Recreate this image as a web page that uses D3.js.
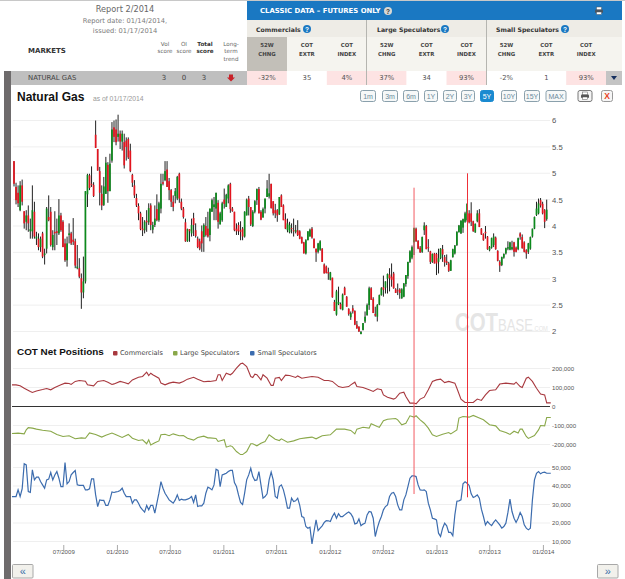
<!DOCTYPE html>
<html>
<head>
<meta charset="utf-8">
<title>Natural Gas COT</title>
<script src="https://cdn.jsdelivr.net/npm/d3@7/dist/d3.min.js"></script>
<style>
  html, body { margin: 0; padding: 0; background: #fff; }
  svg { display: block; }
  text { font-family: "Liberation Sans", Arial, sans-serif; }
  .soft { font-family: "DejaVu Sans", sans-serif; }
</style>
</head>
<body>
<svg id="page" width="625" height="579"></svg>
<script>
// ---- Report header ----
const reportLines = ["Report 2/2014", "Report date: 01/14/2014,", "issued: 01/17/2014"];
const scoreHeads = [["Vol", "score"], ["OI", "score"], ["Total", "score"], ["Long-", "term", "trend"]];
const marketName = "NATURAL GAS";
const scoreValues = ["3", "0", "3"];
const traderGroups = ["Commercials", "Large Speculators", "Small Speculators"];
const cotHeads = [["52W", "CHNG"], ["COT", "EXTR"], ["COT", "INDEX"]];
const cotCells = ["-32%", "35", "4%", "37%", "34", "93%", "-2%", "1", "93%"];
const cotCellHot = [true, false, true, true, false, true, false, false, true];
const rangeButtons = ["1m", "3m", "6m", "1Y", "2Y", "3Y", "5Y", "10Y", "15Y", "MAX"];
const activeRange = "5Y";

// ---- Axis ticks ----
const priceTicks = [2, 2.5, 3, 3.5, 4, 4.5, 5, 5.5, 6];
const netTicks = [-200, -100, 0, 100, 200];
const smallTicks = [10, 20, 30, 40, 50];
const dateTicks = ["2009-07-01", "2010-01-01", "2010-07-01", "2011-01-01", "2011-07-01", "2012-01-01", "2012-07-01", "2013-01-01", "2013-07-01", "2014-01-01"];

// ---- Weekly quotes, oldest first: open, high, low, close ----
const firstQuoteDate = "2009-01-13";
const weeklyQuotes = [
[5.23,5.23,4.75,4.80],[4.74,4.82,4.41,4.49],[4.63,4.77,4.36,4.43],[4.30,4.85,4.28,4.77],[4.77,4.88,4.39,4.46],
[4.28,4.28,3.95,4.05],[4.08,4.30,3.92,4.20],[4.20,4.39,3.89,4.05],[3.90,4.14,3.76,3.94],[3.90,4.77,3.76,4.30],
[4.27,4.46,3.76,3.80],[3.76,3.89,3.64,3.80],[3.76,3.86,3.54,3.60],[3.60,3.80,3.51,3.76],[3.86,3.89,3.39,3.42],
[3.45,3.57,3.27,3.48],[3.57,4.36,3.48,4.33],[4.17,4.58,4.09,4.11],[4.27,4.36,3.61,3.64],[3.60,3.92,3.54,3.83],
[3.89,4.28,3.54,3.86],[3.90,4.14,3.64,3.87],[3.86,4.51,3.83,4.20],[4.20,4.25,3.89,3.92],[4.08,4.11,3.60,3.60],
[3.67,3.76,3.32,3.35],[3.35,3.80,3.23,3.67],[3.83,4.05,3.67,3.86],[3.86,3.89,3.64,3.67],[3.74,4.15,3.64,3.70],
[3.71,3.76,3.20,3.25],[3.20,3.64,3.18,3.23],[3.20,3.39,3.01,3.04],[3.01,3.10,2.43,2.74],[2.74,3.42,2.63,2.95],
[2.95,4.66,2.91,4.66],[4.60,4.99,4.36,4.97],[4.96,4.99,4.68,4.72],[4.80,5.13,4.74,4.78],[4.78,4.83,4.55,4.57],
[5.73,6.00,5.48,5.48],[5.46,5.46,5.05,5.05],[5.04,5.12,4.39,4.63],[4.61,4.77,4.30,4.39],[4.40,4.93,4.38,4.75],
[4.61,5.31,4.61,5.20],[5.16,5.21,4.44,4.66],[4.66,5.37,4.66,5.18],[5.24,5.97,5.20,5.83],[5.87,6.00,5.59,5.69],
[5.83,6.02,5.53,5.59],[5.69,6.11,5.60,5.75],[5.75,5.81,5.46,5.60],[5.60,5.81,5.43,5.75],[5.59,5.75,5.09,5.15],
[5.62,5.68,5.24,5.50],[5.65,5.68,5.27,5.30],[5.43,5.56,5.02,5.04],[4.97,4.99,4.74,4.82],[4.77,4.87,4.53,4.58],
[4.53,4.61,4.36,4.39],[4.38,4.43,4.11,4.24],[4.24,4.27,3.92,3.94],[3.95,4.17,3.81,3.92],[3.92,4.11,3.86,4.08],
[4.10,4.30,3.89,4.07],[4.07,4.43,4.02,4.34],[4.39,4.43,3.92,4.02],[3.93,4.08,3.86,4.02],[4.02,4.39,3.98,4.14],
[4.32,4.60,4.09,4.11],[4.11,4.46,4.08,4.43],[4.33,4.99,4.24,4.80],[4.83,4.99,4.77,4.80],[4.87,5.23,4.85,5.04],
[5.07,5.23,4.74,4.74],[4.85,4.91,4.49,4.68],[4.68,4.70,4.36,4.46],[4.46,4.58,4.28,4.36],[4.57,4.72,4.43,4.66],
[4.52,4.95,4.49,4.93],[4.99,5.01,4.44,4.52],[4.46,4.52,4.30,4.33],[4.33,4.36,4.14,4.17],[4.07,4.14,3.70,3.71],
[3.71,3.95,3.70,3.94],[3.94,3.94,3.70,3.90],[3.86,4.14,3.80,4.02],[4.15,4.25,3.81,4.02],[3.92,4.05,3.78,3.81],
[3.76,3.80,3.58,3.60],[3.71,3.76,3.54,3.57],[3.90,4.01,3.51,3.67],[3.79,4.05,3.51,4.02],[4.00,4.17,3.80,3.83],
[3.95,4.27,3.78,3.80],[3.83,4.33,3.71,4.33],[4.27,4.52,4.27,4.49],[4.36,4.55,4.11,4.41],[4.33,4.63,4.11,4.63],
[4.44,4.49,3.95,4.08],[4.03,4.27,4.03,4.24],[4.11,4.46,4.08,4.43],[4.50,4.71,4.33,4.42],[4.36,4.61,4.36,4.59],
[4.52,4.79,4.43,4.77],[4.80,4.82,4.25,4.32],[4.33,4.36,4.27,4.28],[4.27,4.27,3.90,3.92],[3.95,4.05,3.83,3.90],
[4.02,4.07,3.83,3.90],[3.92,4.09,3.73,3.89],[3.95,3.98,3.73,3.80],[3.80,4.28,3.78,4.27],[4.20,4.52,4.20,4.50],
[4.52,4.57,4.20,4.36],[4.36,4.36,4.00,4.03],[4.00,4.30,3.98,4.27],[4.27,4.49,4.24,4.47],[4.49,4.71,4.40,4.70],
[4.70,4.74,4.24,4.24],[4.27,4.30,4.11,4.12],[4.16,4.35,4.16,4.32],[4.33,4.52,4.24,4.52],[4.55,4.87,4.55,4.71],
[4.56,4.99,4.52,4.62],[4.80,4.80,4.33,4.34],[4.47,4.47,4.20,4.24],[4.30,4.42,4.15,4.24],[4.30,4.32,4.08,4.20],
[4.22,4.55,4.21,4.55],[4.58,4.60,4.36,4.36],[4.39,4.41,4.11,4.11],[4.13,4.24,3.94,3.95],[3.92,4.14,3.88,4.05],
[3.88,4.08,3.86,4.02],[3.96,4.05,3.86,3.94],[3.92,4.14,3.80,3.90],[3.89,4.02,3.86,3.92],[3.92,4.11,3.81,3.83],
[3.90,3.92,3.75,3.76],[3.79,3.80,3.67,3.67],[3.69,3.70,3.48,3.48],[3.48,3.75,3.46,3.73],[3.73,3.90,3.73,3.90],
[3.80,3.95,3.80,3.93],[3.95,3.98,3.76,3.78],[3.76,3.76,3.58,3.58],[3.57,3.57,3.32,3.50],[3.51,3.68,3.48,3.67],
[3.55,3.73,3.53,3.71],[3.57,3.58,3.32,3.32],[3.27,3.29,3.10,3.10],[3.23,3.25,3.10,3.11],[3.13,3.21,2.98,3.10],
[2.98,3.13,2.97,3.12],[3.02,3.02,2.64,2.65],[2.56,2.60,2.39,2.39],[2.32,2.79,2.30,2.76],[2.52,2.85,2.50,2.56],
[2.52,2.55,2.42,2.43],[2.41,2.72,2.40,2.70],[2.83,2.85,2.69,2.69],[2.66,2.67,2.47,2.47],[2.43,2.44,2.30,2.33],
[2.27,2.38,2.22,2.35],[2.44,2.50,2.34,2.38],[2.39,2.40,2.12,2.13],[2.13,2.20,2.05,2.06],[2.09,2.10,1.99,2.00],
[1.95,2.01,1.95,1.99],[2.03,2.16,2.02,2.16],[2.19,2.38,2.16,2.28],[2.31,2.53,2.30,2.50],[2.50,2.85,2.41,2.82],
[2.82,2.84,2.60,2.60],[2.62,2.65,2.35,2.35],[2.33,2.47,2.28,2.30],[2.28,2.52,2.19,2.50],[2.51,2.70,2.50,2.69],
[2.69,2.84,2.68,2.82],[2.84,3.06,2.66,2.79],[2.83,2.95,2.72,2.95],[3.00,3.10,2.72,3.09],[3.08,3.20,2.76,3.01],
[3.04,3.29,2.85,2.98],[3.10,3.13,2.81,2.82],[2.80,2.82,2.73,2.73],[2.78,2.91,2.69,2.76],[2.80,2.82,2.62,2.73],
[2.63,2.82,2.62,2.80],[2.66,2.92,2.65,2.91],[2.90,3.07,2.85,3.07],[3.05,3.32,3.00,3.32],[3.32,3.54,3.30,3.52],
[3.40,3.63,3.37,3.60],[3.69,3.97,3.45,3.96],[3.95,3.97,3.70,3.71],[3.72,3.73,3.56,3.57],[3.59,3.62,3.49,3.50],
[3.51,3.80,3.49,3.79],[3.92,4.07,3.83,4.01],[4.00,4.02,3.56,3.56],[3.60,3.75,3.51,3.58],[3.52,3.53,3.28,3.32],
[3.32,3.48,3.30,3.47],[3.48,3.49,3.29,3.29],[3.47,3.49,3.07,3.29],[3.32,3.57,3.10,3.39],[3.39,3.58,3.37,3.57],
[3.56,3.64,3.32,3.46],[3.41,3.45,3.23,3.31],[3.33,3.46,3.26,3.30],[3.29,3.32,3.13,3.15],[3.15,3.36,3.15,3.35],
[3.41,3.57,3.40,3.56],[3.48,3.64,3.46,3.63],[3.64,3.90,3.62,3.89],[3.88,4.02,3.88,4.01],[3.86,4.11,3.85,4.10],
[3.97,4.14,3.87,4.13],[4.08,4.27,4.06,4.24],[4.11,4.43,4.08,4.42],[4.24,4.30,4.05,4.07],[4.24,4.45,4.00,4.08],
[4.09,4.10,3.89,3.90],[3.88,4.05,3.87,4.04],[4.09,4.30,4.07,4.24],[4.24,4.32,3.98,3.98],[3.95,3.96,3.83,3.84],
[3.85,3.86,3.72,3.73],[3.89,4.00,3.76,3.86],[3.80,3.81,3.55,3.56],[3.54,3.62,3.52,3.60],[3.59,3.78,3.57,3.77],
[3.64,3.86,3.60,3.80],[3.78,3.80,3.55,3.56],[3.53,3.54,3.33,3.34],[3.32,3.35,3.13,3.25],[3.26,3.42,3.24,3.41],
[3.40,3.48,3.38,3.47],[3.48,3.59,3.46,3.58],[3.57,3.71,3.54,3.60],[3.55,3.70,3.54,3.69],[3.56,3.72,3.54,3.60],
[3.69,3.70,3.42,3.51],[3.59,3.61,3.50,3.51],[3.56,3.78,3.54,3.77],[3.86,3.88,3.74,3.80],[3.79,3.84,3.57,3.58],
[3.69,3.71,3.50,3.51],[3.54,3.56,3.38,3.48],[3.51,3.68,3.47,3.67],[3.57,3.80,3.55,3.79],[3.80,3.95,3.78,3.95],
[3.95,4.18,3.94,4.17],[4.21,4.46,4.19,4.33],[4.24,4.52,4.22,4.43],[4.49,4.53,4.35,4.39],[4.42,4.46,4.22,4.24],
[4.30,4.32,3.96,4.08],[4.13,4.50,4.10,4.31]
];

// ---- Net positions in thousands of contracts: [week number, value] ----
const commercialsNet = [
[-1,114],[1,114],[3,109],[5,96],[8,79],[9,74],[11,82],[14,89],[16,95],[18,88],[20,100],[23,114],[25,123],[27,121],[28,116],[30,132],[32,137],[35,133],[36,114],[39,109],[41,132],[44,137],[46,128],[48,116],[49,119],[52,132],[54,126],[56,119],[58,140],[61,154],[63,158],[65,181],[66,163],[67,175],[68,167],[71,149],[72,123],[74,114],[76,123],[78,128],[81,123],[83,132],[85,144],[88,154],[90,144],[93,130],[95,132],
[96,132],[99,137],[100,167],[101,167],[102,137],[104,175],[106,167],[107,175],[109,202],[111,225],[112,228],[114,210],[116,158],[117,153],[118,170],[119,167],[121,140],[122,167],[124,149],[126,111],[127,111],[128,149],[130,153],[131,137],[133,165],[135,163],[138,153],[139,161],[141,149],[143,153],[146,158],[149,154],[152,137],[154,137],[156,132],[159,105],[161,100],[164,105],[165,114],[167,128],[168,105],[171,100],[174,88],[176,79],[178,93],[180,88],[181,61],[183,49],[186,39],[187,44],[189,70],[191,75],[192,53],
[194,18],[196,18],[197,14],[199,39],[201,49],[203,88],[205,132],[207,140],[209,144],[211,126],[213,132],[216,123],[217,96],[219,39],[221,21],[225,21],[227,39],[229,32],[231,61],[233,84],[236,88],[238,118],[241,123],[245,118],[246,128],[248,105],[249,100],[251,149],[252,154],[254,132],[256,96],[258,66],[260,61],[261,19],[263,19]
];
const largeSpecsNet = [
[-1,-142],[2,-140],[5,-144],[6,-123],[7,-111],[9,-114],[11,-119],[14,-125],[18,-130],[21,-147],[24,-158],[27,-154],[30,-170],[33,-165],[35,-167],[37,-139],[40,-147],[43,-161],[45,-151],[48,-140],[50,-149],[53,-163],[56,-147],[58,-167],[61,-179],[63,-175],[65,-196],[66,-175],[67,-203],[69,-191],[71,-181],[72,-149],[74,-146],[76,-154],[78,-144],[81,-154],[83,-153],[85,-167],[88,-177],[90,-163],[93,-156],[95,-165],
[96,-165],[99,-168],[100,-184],[103,-175],[104,-214],[106,-207],[107,-211],[109,-237],[111,-253],[112,-253],[114,-237],[116,-196],[117,-196],[119,-207],[121,-193],[123,-184],[125,-149],[128,-172],[130,-179],[131,-170],[134,-188],[137,-181],[140,-170],[143,-165],[146,-161],[148,-170],[151,-154],[155,-149],[158,-119],[162,-119],[165,-126],[167,-144],[168,-119],[171,-109],[174,-114],[175,-91],[178,-105],[179,-109],[181,-75],[183,-67],[187,-63],[188,-70],[190,-96],[192,-88],[194,-49],
[196,-56],[197,-49],[199,-70],[201,-88],[203,-114],[205,-149],[207,-158],[210,-146],[213,-137],[214,-144],[217,-123],[218,-61],[220,-53],[223,-56],[225,-47],[228,-61],[230,-70],[233,-96],[236,-102],[238,-126],[241,-137],[243,-147],[245,-130],[247,-140],[248,-119],[249,-119],[251,-158],[252,-168],[255,-153],[257,-123],[258,-100],[260,-102],[261,-58],[263,-58]
];
// One weekly reading each, starting from week number -1
const smallSpecsNet = [
34.3,34.3,34.3,37.9,34.3,38.5,52.0,51.4,37.0,36.5,48.7,43.3,44.8,44.8,42.4,40.6,38.8,43.3,43.7,47.3,43.3,46.0,47.8,44.2,39.7,39.7,52.7,41.2,42.4,46.0,47.3,48.4,40.6,40.3,40.3,40.3,37.9,37.9,38.5,43.9,43.9,35.2,28.9,32.5,32.2,32.2,29.5,29.5,32.5,36.8,36.5,36.8,37.0,37.6,38.8,36.1,34.3,34.3,34.3,30.7,32.5,32.5,30.7,28.4,27.1,25.9,29.5,27.1,29.5,29.5,25.3,30.7,36.1,42.4,38.8,36.1,34.3,32.5,31.6,30.7,32.5,35.2,32.2,32.9,32.5,32.5,32.9,33.4,34.3,31.1,35.2,28.9,29.3,29.3,30.7,36.1,39.4,
38.8,37.9,40.6,49.1,48.4,39.7,46.0,46.4,46.9,47.8,48.4,48.4,41.9,39.7,35.2,31.1,30.0,36.1,43.3,46.0,49.6,45.1,43.0,43.3,47.8,40.6,33.4,34.3,35.8,43.3,47.5,43.3,34.3,33.4,39.7,40.6,37.9,33.4,28.0,28.0,33.4,31.6,32.0,33.4,29.5,23.5,23.0,18.1,17.2,17.7,8.7,15.4,21.7,15.9,17.2,18.5,20.3,21.3,21.2,20.8,23.5,25.3,22.6,25.0,23.5,23.5,24.4,25.3,25.9,25.0,23.2,19.5,19.9,22.2,18.5,19.4,19.9,24.4,26.2,25.9,22.6,12.7,17.2,20.8,23.5,27.1,28.9,29.8,34.3,36.1,36.5,34.3,29.8,27.1,27.1,32.5,35.2,39.7,44.2,
45.5,45.5,45.1,40.6,37.9,37.7,37.9,37.0,30.7,27.1,22.6,22.2,21.7,14.5,12.7,17.2,19.9,18.5,14.9,14.9,13.1,24.4,31.8,32.0,32.5,41.2,42.3,41.5,40.3,35.8,33.8,34.3,35.2,33.4,27.5,23.5,19.0,20.8,19.5,18.6,20.3,21.7,20.4,19.0,17.2,18.1,19.9,25.7,32.9,26.2,22.6,20.3,22.6,25.7,23.5,19.0,17.2,16.3,17.2,32.5,43.3,46.9,47.8,46.6,47.3,47.5,46.9,46.9,46.9
];
const signalWeeks = [196, 222];

const svg = d3.select("#page");
const ui = svg.append("g");
const plot = svg.append("g");

function label(parent, str, x, y, opts = {}) {
  return parent.append("text").text(str)
    .attr("x", x).attr("y", y)
    .attr("text-anchor", opts.anchor || "start")
    .attr("dominant-baseline", "central")
    .attr("font-size", opts.size || 7)
    .attr("font-weight", opts.weight || "normal")
    .attr("fill", opts.fill || "#555")
    .attr("class", opts.soft ? "soft" : null);
}

// ---- Header table ----
ui.append("rect").attr("x", 0).attr("y", 0).attr("width", 625).attr("height", 1).attr("fill", "#c8c8c8");
label(ui, reportLines[0], 125, 9, { anchor: "middle", size: 8.2, fill: "#666", soft: true });
label(ui, reportLines[1], 125, 21, { anchor: "middle", size: 6.7, fill: "#7a7a7a", soft: true });
label(ui, reportLines[2], 125, 30.5, { anchor: "middle", size: 6.7, fill: "#7a7a7a", soft: true });
label(ui, "MARKETS", 28, 51, { size: 7, weight: "bold", fill: "#333", soft: true });

const scoreX = [165, 184, 205, 231];
scoreHeads.forEach((lines, i) => lines.forEach((t, j) =>
  label(ui, t, scoreX[i], 43.5 + j * 7.6, { anchor: "middle", size: 5.6, fill: i === 2 ? "#333" : "#666", weight: i === 2 ? "bold" : "normal", soft: true })));

ui.append("rect").attr("x", 247).attr("y", 1).attr("width", 375).attr("height", 19).attr("fill", "#1a78c2");
label(ui, "CLASSIC DATA – FUTURES ONLY", 260, 11, { size: 6.9, weight: "bold", fill: "#fff", soft: true });
ui.append("rect").attr("x", 247).attr("y", 20).attr("width", 375).attr("height", 17).attr("fill", "#eeece6");
ui.append("rect").attr("x", 247).attr("y", 37).attr("width", 375).attr("height", 34).attr("fill", "#f5f4ef");
ui.append("rect").attr("x", 247).attr("y", 37).attr("width", 40).attr("height", 34).attr("fill", "#c2bfb8");

function helpDot(x, y, fill, fg) {
  ui.append("circle").attr("cx", x).attr("cy", y).attr("r", 4).attr("fill", fill);
  label(ui, "?", x, y + 0.2, { anchor: "middle", size: 6.5, weight: "bold", fill: fg });
}
helpDot(388, 11, "#d8d8d4", "#333");

const groupText = [256, 377, 496];
const groupDot = [307, 445, 565];
traderGroups.forEach((g, i) => {
  label(ui, g, groupText[i], 29, { size: 6.2, weight: "bold", fill: "#333", soft: true });
  helpDot(groupDot[i], 29, "#1a78c2", "#fff");
});
[366, 486].forEach(x => ui.append("rect").attr("x", x).attr("y", 20).attr("width", 1).attr("height", 65).attr("fill", "#b5b5b0"));

// Data row
ui.append("rect").attr("x", 4).attr("y", 71).attr("width", 7).attr("height", 508).attr("fill", "#6e6b6c");
ui.append("rect").attr("x", 11).attr("y", 71).attr("width", 236).attr("height", 14).attr("fill", "#bfbfbf");
label(ui, marketName, 28, 78, { size: 6.9, fill: "#444", soft: true });
[164, 184, 204].forEach((x, i) => label(ui, scoreValues[i], x, 78, { anchor: "middle", size: 7, fill: "#444", soft: true }));
ui.append("path").attr("d", "M229,74.5h4v3h2l-4,4l-4,-4h2z").attr("fill", "#c8222a");

const colLeft = d3.range(9).map(i => 247 + i * 39.9);
cotCells.forEach((c, i) => {
  ui.append("rect").attr("x", colLeft[i]).attr("y", 71).attr("width", 39.9).attr("height", 14)
    .attr("fill", cotCellHot[i] ? "#fde3e3" : "#fff");
  label(ui, c, colLeft[i] + 20, 78, { anchor: "middle", size: 6.8, fill: "#555", soft: true });
  cotHeads[i % 3].forEach((t, j) =>
    label(ui, t, colLeft[i] + 20, 44.5 + j * 9, { anchor: "middle", size: 5.4, weight: "bold", fill: "#444", soft: true }));
});
[366, 486].forEach(x => ui.append("rect").attr("x", x).attr("y", 71).attr("width", 1).attr("height", 14).attr("fill", "#b5b5b0"));
ui.append("rect").attr("x", 606).attr("y", 71).attr("width", 16).attr("height", 14).attr("fill", "#c4c4c4");
ui.append("path").attr("d", "M611,76h6l-3,4z").attr("fill", "#16305f");

// Printer icon in the blue bar
const printer = (x, y, col) => {
  ui.append("rect").attr("x", x - 2.5).attr("y", y - 4).attr("width", 5).attr("height", 3).attr("fill", "#fff").attr("stroke", col).attr("stroke-width", 0.5);
  ui.append("rect").attr("x", x - 4).attr("y", y - 1.5).attr("width", 8).attr("height", 3.5).attr("rx", 1).attr("fill", col);
  ui.append("rect").attr("x", x - 2.5).attr("y", y + 1).attr("width", 5).attr("height", 2.5).attr("fill", "#fff").attr("stroke", col).attr("stroke-width", 0.5);
};
printer(599, 11, "#4a5560");

// ---- Chart heading and range buttons ----
label(ui, "Natural Gas", 17, 97, { size: 12, weight: "bold", fill: "#111" });
label(ui, "as of 01/17/2014", 93, 98, { size: 6.8, fill: "#999" });

const btnCx = [368, 390, 411, 431, 450, 468, 487, 509, 532, 556];
const btnW = [15, 15, 15, 13, 13, 13, 13, 15, 15, 20];
rangeButtons.forEach((b, i) => {
  const on = b === activeRange;
  ui.append("rect").attr("x", btnCx[i] - btnW[i] / 2).attr("y", 90.5).attr("width", btnW[i]).attr("height", 11).attr("rx", 2)
    .attr("fill", on ? "#1a8ad0" : "#f6f8f8").attr("stroke", on ? "#1a8ad0" : "#8aa0ac");
  label(ui, b, btnCx[i], 96.3, { anchor: "middle", size: 7, fill: on ? "#fff" : "#6a8a9c" });
});
ui.append("rect").attr("x", 578).attr("y", 90.5).attr("width", 14).attr("height", 11).attr("rx", 2).attr("fill", "#f4f4f4").attr("stroke", "#777");
printer(585, 96, "#555");
ui.append("rect").attr("x", 601.5).attr("y", 90.5).attr("width", 11).attr("height", 11).attr("rx", 2).attr("fill", "#f6f6f6").attr("stroke", "#999");
label(ui, "X", 607, 96.3, { anchor: "middle", size: 8.5, weight: "bold", fill: "#e8421c" });

// ---- Scales ----
const week0 = new Date(firstQuoteDate + "T00:00:00Z");
const weekDate = w => d3.utcDay.offset(week0, w * 7);
const x = d3.scaleUtc().domain([weekDate(0), weekDate(weeklyQuotes.length - 1)]).range([14, 546.7]);
const xw = w => x(weekDate(w));

const yPrice = d3.scaleLinear().domain([2, 6]).range([331.5, 120.5]);
const yNet = d3.scaleLinear().domain([-200, 200]).range([444.5, 368.5]);
const ySmall = d3.scaleLinear().domain([10, 50]).range([541.5, 467.5]);

const gridLeft = 13, gridRight = 550;
function grid(scale, ticks, colour) {
  plot.append("g").selectAll("line").data(ticks).join("line")
    .attr("x1", gridLeft).attr("x2", gridRight)
    .attr("y1", d => scale(d)).attr("y2", d => scale(d))
    .attr("stroke", colour).attr("stroke-width", 1);
}
grid(yPrice, priceTicks, "#efefef");
grid(yNet, netTicks.filter(d => d !== 0), "#efefef");
grid(ySmall, smallTicks, "#efefef");

// Watermark: one text run squeezed horizontally, three sizes on one baseline
const mark = plot.append("text").attr("transform", "translate(455,331) scale(0.817,1)").attr("fill", "#e5e5e5");
mark.append("tspan").attr("font-size", 25).attr("font-weight", "bold").text("COT");
mark.append("tspan").attr("font-size", 16).text("BASE");
mark.append("tspan").attr("font-size", 7).text(".COM");

// ---- Candles ----
const candles = plot.append("g").selectAll("g").data(weeklyQuotes).join("g");
candles.append("line")
  .attr("x1", (d, i) => xw(i)).attr("x2", (d, i) => xw(i))
  .attr("y1", d => yPrice(d[1])).attr("y2", d => yPrice(d[2]))
  .attr("stroke", "#222").attr("stroke-width", 1);
candles.append("rect")
  .attr("x", (d, i) => xw(i) - 0.85).attr("width", 1.7)
  .attr("y", d => yPrice(Math.max(d[0], d[3])))
  .attr("height", d => Math.max(1, Math.abs(yPrice(d[0]) - yPrice(d[3]))))
  .attr("fill", d => d[3] >= d[0] ? "#0c8a1c" : "#e2141e");

// ---- Net position panel ----
label(plot, "COT Net Positions", 17, 351.7, { size: 9.9, weight: "bold", fill: "#111" });
const legendItems = [
  { name: traderGroups[0], colour: "#a8393f", mark: 113, text: 120 },
  { name: traderGroups[1], colour: "#8aa84a", mark: 173, text: 180 },
  { name: traderGroups[2], colour: "#3c6cae", mark: 250, text: 257.5 }
];
legendItems.forEach(l => {
  plot.append("rect").attr("x", l.mark).attr("y", 351).attr("width", 4.5).attr("height", 4.5).attr("rx", 1).attr("fill", l.colour);
  label(plot, l.name, l.text, 353.2, { size: 6.6, fill: "#444", soft: true });
});

const lineNet = d3.line().x(d => xw(d[0])).y(d => yNet(d[1]));
const lineSmall = d3.line().x((d, i) => xw(i - 1)).y(d => ySmall(d));

plot.append("path").attr("d", lineNet(commercialsNet)).attr("fill", "none").attr("stroke", legendItems[0].colour).attr("stroke-width", 1.1);
plot.append("path").attr("d", lineNet(largeSpecsNet)).attr("fill", "none").attr("stroke", legendItems[1].colour).attr("stroke-width", 1.1);
plot.append("path").attr("d", lineSmall(smallSpecsNet)).attr("fill", "none").attr("stroke", legendItems[2].colour).attr("stroke-width", 1.2);

plot.append("line").attr("x1", gridLeft - 1).attr("x2", gridRight).attr("y1", yNet(0)).attr("y2", yNet(0)).attr("stroke", "#333").attr("stroke-width", 1);

// Signal markers across both panels: the earlier one straddles two pixels, the later sits on one
const signalTop = [187.7, 173.3], signalBottom = [494, 497.3], signalColour = ["#f25a62", "#ee3038"];
const signalX = [w => xw(w), w => Math.floor(xw(w)) + 0.5];
signalWeeks.forEach((w, i) => {
  plot.append("line").attr("x1", signalX[i](w)).attr("x2", signalX[i](w)).attr("y1", signalTop[i]).attr("y2", signalBottom[i])
    .attr("stroke", signalColour[i]).attr("stroke-width", 1);
});

// ---- Axes ----
function styleAxis(g) {
  g.select(".domain").remove();
  g.selectAll("text").attr("fill", "#555");
  g.selectAll("line").attr("stroke", "#aaa");
}
plot.append("g").attr("transform", "translate(552,0)")
  .call(d3.axisRight(yPrice).tickValues(priceTicks).tickSize(0).tickPadding(0).tickFormat(d3.format("~g")))
  .attr("font-family", null).attr("font-size", 7.7).call(styleAxis);
const commaFmt = d3.format(",");
const groupedLabel = d => commaFmt(d * 1000).replace("\u2212", "-");
plot.append("g").attr("transform", "translate(552,0)")
  .call(d3.axisRight(yNet).tickValues(netTicks).tickSize(0).tickPadding(0).tickFormat(groupedLabel))
  .attr("font-family", null).attr("font-size", 6.1).call(styleAxis);
plot.append("g").attr("transform", "translate(552,0)")
  .call(d3.axisRight(ySmall).tickValues(smallTicks).tickSize(0).tickPadding(0).tickFormat(groupedLabel))
  .attr("font-family", null).attr("font-size", 6.1).call(styleAxis);
plot.append("g").attr("transform", "translate(0,545)")
  .call(d3.axisBottom(x).tickValues(dateTicks.map(d => new Date(d + "T00:00:00Z"))).tickSize(5).tickPadding(0).tickFormat(d3.utcFormat("%m/%Y")))
  .attr("font-family", null).attr("font-size", 6.1).call(styleAxis);

// ---- Paging buttons ----
function pager(xPos, sign) {
  ui.append("rect").attr("x", xPos + 0.5).attr("y", 564.5).attr("width", 20.5).attr("height", 13.5).attr("rx", 1).attr("fill", "#f2f1ec").attr("stroke", "#a8a8a8");
  label(ui, sign, xPos + 10.8, 570.5, { anchor: "middle", size: 11, fill: "#3a6ea8" });
}
pager(12, "\u00ab");
pager(597, "\u00bb");
</script>
</body>
</html>
